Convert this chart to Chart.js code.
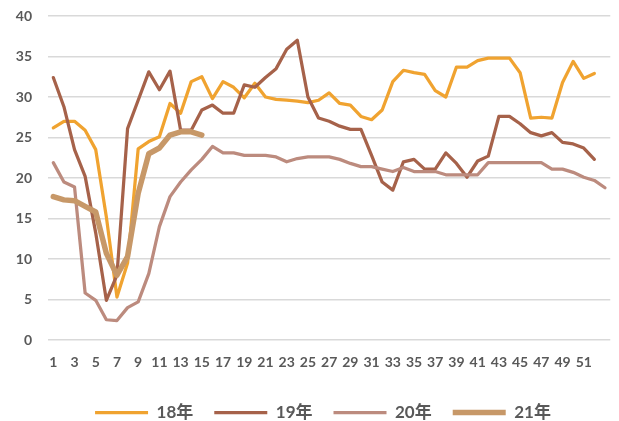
<!DOCTYPE html>
<html>
<head>
<meta charset="utf-8">
<script src="https://cdn.jsdelivr.net/npm/chart.js@4/dist/chart.umd.min.js"></script>
<style>
    html, body { margin: 0; padding: 0; background: #fff; }
    #wrap { width: 619px; height: 421px; }
</style>
</head>
<body>
<div id="wrap"><canvas id="chart"></canvas></div>
<script>
// week numbers on the x axis (20年 has a 53rd week without label)
const weeks = ['1','2','3','4','5','6','7','8','9','10','11','12','13','14','15','16','17','18','19','20',
    '21','22','23','24','25','26','27','28','29','30','31','32','33','34','35','36','37','38','39','40',
    '41','42','43','44','45','46','47','48','49','50','51','52',''];
const yTicks = [0, 5, 10, 15, 20, 25, 30, 35, 40];

const seriesNames = ['18年', '19年', '20年', '21年'];

const y2018 = [26.2, 27.0, 27.0, 25.9, 23.5, 15.2, 5.3, 9.5, 23.6, 24.5, 25.1, 29.2, 28.0, 31.9, 32.5, 29.8,
    31.9, 31.2, 29.9, 31.7, 30.0, 29.7, 29.6, 29.5, 29.3, 29.6, 30.5, 29.2, 29.0, 27.6, 27.2, 28.4,
    31.9, 33.3, 33.0, 32.8, 30.8, 30.0, 33.7, 33.7, 34.5, 34.8, 34.8, 34.8, 33.0, 27.4, 27.5, 27.4,
    31.8, 34.4, 32.3, 32.9];
const y2019 = [32.4, 28.8, 23.5, 20.2, 13.2, 4.9, 8.0, 26.1, 29.6, 33.1, 30.9, 33.2, 25.9, 25.9, 28.4, 29.0,
    28.0, 28.0, 31.5, 31.2, 32.4, 33.5, 35.9, 37.0, 30.0, 27.4, 27.0, 26.4, 26.0, 26.0, 22.8, 19.5,
    18.5, 22.0, 22.3, 21.1, 21.1, 23.1, 21.8, 20.1, 22.1, 22.7, 27.6, 27.6, 26.7, 25.6, 25.2, 25.6,
    24.4, 24.2, 23.7, 22.3];
const y2020 = [21.9, 19.5, 18.9, 5.8, 4.9, 2.5, 2.4, 4.0, 4.7, 8.2, 14.0, 17.7, 19.5, 21.0, 22.3, 23.9,
    23.1, 23.1, 22.8, 22.8, 22.8, 22.6, 22.0, 22.4, 22.6, 22.6, 22.6, 22.3, 21.8, 21.4, 21.4, 21.1,
    20.8, 21.3, 20.8, 20.8, 20.8, 20.4, 20.4, 20.4, 20.4, 21.9, 21.9, 21.9, 21.9, 21.9, 21.9, 21.1,
    21.1, 20.7, 20.1, 19.7, 18.8];
const y2021 = [17.7, 17.3, 17.2, 16.5, 15.8, 10.7, 8.0, 10.3, 18.1, 23.0, 23.7, 25.3, 25.7, 25.7, 25.3];

const colors = ['#F0A330', '#A6624A', '#BC8B7E', '#C79868'];
const widths = [3.25, 3.25, 3.25, 5.5];

const txt = '#595959';
const fontFam = "Lato, 'Noto Sans CJK SC', sans-serif";

const allData = [y2018, y2019, y2020, y2021];
const datasets = allData.map((d, i) => ({
    label: seriesNames[i],
    data: d,
    borderColor: colors[i],
    backgroundColor: colors[i],
    borderWidth: widths[i],
    borderCapStyle: 'round',
    borderJoinStyle: 'round',
    pointRadius: 0,
    pointHoverRadius: 0,
    tension: 0,
    fill: false,
    order: 4 - i
}));

// short legend band near the bottom edge, nudged a bit right like the original
const legendTweak = {
    id: 'legendTweak',
    beforeLayout(chart) {
        const lg = chart.legend;
        if (lg && !lg._patched) {
            const origFit = lg.fit;
            lg.fit = function () {
                origFit.call(this);
                this.height = 38;
            };
            const origDraw = lg.draw;
            lg.draw = function () {
                this.ctx.save();
                this.ctx.translate(15, 0);
                origDraw.call(this);
                this.ctx.restore();
            };
            lg._patched = true;
        }
    }
};

const ctx = document.getElementById('chart');
const myChart = new Chart(ctx, {
    type: 'line',
    data: {
        labels: weeks,
        datasets: datasets
    },
    plugins: [legendTweak],
    options: {
        responsive: true,
        maintainAspectRatio: false,
        animation: false,
        layout: {
            padding: {left: 0, right: 3, top: 16, bottom: 0}
        },
        plugins: {
            tooltip: {enabled: false},
            legend: {
                position: 'bottom',
                labels: {
                    usePointStyle: true,
                    pointStyle: 'line',
                    pointStyleWidth: 53,
                    boxHeight: 16,
                    padding: 21,
                    color: txt,
                    font: {family: fontFam, size: 17, weight: 'bold'},
                    sort: (a, b) => a.datasetIndex - b.datasetIndex
                }
            }
        },
        scales: {
            x: {
                offset: true,
                grid: {display: false, drawTicks: false},
                border: {display: false},
                ticks: {
                    autoSkip: false,
                    maxRotation: 0,
                    minRotation: 0,
                    padding: 14,
                    color: txt,
                    font: {family: fontFam, size: 14, weight: 'bold'},
                    callback: function (val, index) {
                        return index % 2 === 0 ? this.getLabelForValue(val) : '';
                    }
                },
                afterFit: (scale) => { scale.height = 43; }
            },
            y: {
                min: 0,
                max: 40,
                afterBuildTicks: (scale) => {
                    scale.ticks = yTicks.map(v => ({value: v}));
                },
                grid: {color: '#d9d9d9', lineWidth: 1.5, drawTicks: false},
                border: {display: false},
                ticks: {
                    padding: 16,
                    color: txt,
                    font: {family: fontFam, size: 14, weight: 'bold'}
                },
                afterFit: (scale) => {
                    scale.width = 48;
                    scale.paddingTop = 0;
                    scale.paddingBottom = 0;
                }
            }
        }
    }
});
</script>
</body>
</html>
